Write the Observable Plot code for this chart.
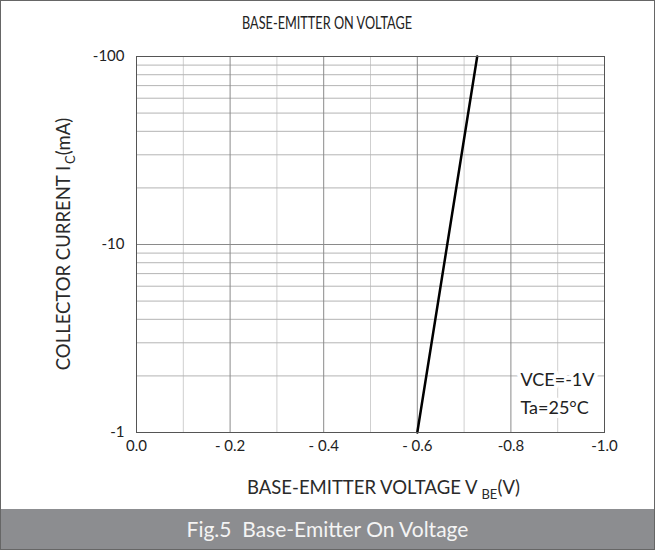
<!DOCTYPE html>
<html>
<head>
<meta charset="utf-8">
<script src="https://cdn.jsdelivr.net/npm/d3@7"></script>
<script src="https://cdn.jsdelivr.net/npm/@observablehq/plot@0.6"></script>
<style>
  html, body { margin: 0; padding: 0; background: #fff; }
  #wrap { position: relative; width: 653px; height: 548px; border: 1px solid #666; background: #fff; font-family: Lato, "Noto Sans", sans-serif; overflow: hidden; }
  #chart svg { display: block; }
  #caption { position: absolute; left: 0; right: 0; bottom: 0; height: 40px; background: #8c8d90; color: #f4f4f4; font-size: 21px; line-height: 40px; text-align: center; }
</style>
</head>
<body>
<div id="wrap">
  <div id="chart"></div>
  <div id="caption">Fig.5&nbsp;&nbsp;Base-Emitter On Voltage</div>
</div>
<script>
// ---- data ----
const vbe = [-0.60, -0.728];          // base-emitter voltage (V)
const ic = [1, 100];                  // collector current magnitude (mA)
const xTicks = [0, -0.2, -0.4, -0.6, -0.8, -1.0];
const xTickLabels = ["0.0", "- 0.2", "- 0.4", "- 0.6", "-0.8", "-1.0"];
const xMinor = [-0.1, -0.3, -0.5, -0.7, -0.9];
const yTicks = [1, 10, 100];
const yTickLabels = ["-1", "-10", "-100"];
const yMinor = [2, 3, 4, 5, 6, 7, 8, 9, 20, 30, 40, 50, 60, 70, 80, 90];
const title = "BASE-EMITTER ON VOLTAGE";
const conditions = "VCE=-1V\nTa=25°C";

const curve = vbe.map((v, i) => ({v, i: ic[i]}));

const W = 653, H = 506;
const mL = 135, mR = 50, mT = 55, mB = 75;

const chart = Plot.plot({
  width: W,
  height: H,
  marginLeft: mL,
  marginRight: mR,
  marginTop: mT,
  marginBottom: mB,
  style: {fontFamily: "Lato, 'Noto Sans', sans-serif", fontSize: "15px", color: "#222", background: "#fff"},
  x: {domain: [0, -1], label: null},
  y: {type: "log", domain: [1, 100], label: null},
  marks: [
    Plot.ruleX(xMinor, {stroke: "#cfcfcf", strokeWidth: 1}),
    Plot.ruleY(yMinor, {stroke: "#b4b4b4", strokeWidth: 1}),
    Plot.ruleX(xTicks, {stroke: "#8a8a8a", strokeWidth: 1}),
    Plot.ruleY(yTicks, {stroke: "#8a8a8a", strokeWidth: 1}),
    Plot.text([conditions], {frameAnchor: "bottom-right", textAnchor: "start", lineAnchor: "bottom", dx: -84, dy: -19, fontSize: 18, lineHeight: 1.55, fill: "#222", stroke: "white", strokeWidth: 8}),
    Plot.line(curve, {x: "v", y: "i", stroke: "#000", strokeWidth: 2.5}),
    Plot.frame({stroke: "#555", strokeWidth: 1}),
    Plot.axisX({ticks: xTicks, tickSize: 0, tickPadding: 8, tickFormat: d => xTickLabels[xTicks.indexOf(d)], fontSize: 15}),
    Plot.axisY({ticks: yTicks, tickSize: 0, tickPadding: 12, tickFormat: d => yTickLabels[yTicks.indexOf(d)], fontSize: 15})
  ]
});

document.getElementById("chart").appendChild(chart);

const svg = d3.select(chart);
const cy = mT + (H - mT - mB) / 2;

// title
svg.append("text")
  .attr("x", 326).attr("y", 28)
  .attr("text-anchor", "middle")
  .attr("font-size", 17).attr("fill", "#222")
  .attr("textLength", 170).attr("lengthAdjust", "spacingAndGlyphs")
  .text(title);

// x axis label with subscript
const xl = svg.append("text")
  .attr("x", 246).attr("y", 493)
  .attr("text-anchor", "start")
  .attr("font-size", 18.5).attr("fill", "#2a2a2a");
xl.append("tspan").text("BASE-EMITTER VOLTAGE V");
xl.append("tspan").attr("font-size", 13).attr("dx", 4).attr("dy", 5).text("BE");
xl.append("tspan").attr("dy", -5).text("(V)");

// y axis label with subscript
const yl = svg.append("text")
  .attr("transform", `translate(69,${cy}) rotate(-90)`)
  .attr("text-anchor", "middle")
  .attr("font-size", 18.5).attr("fill", "#2a2a2a");
yl.append("tspan").text("COLLECTOR CURRENT I");
yl.append("tspan").attr("font-size", 13).attr("dx", 2).attr("dy", 5).text("C");
yl.append("tspan").attr("dy", -5).text("(mA)");
</script>
</body>
</html>
